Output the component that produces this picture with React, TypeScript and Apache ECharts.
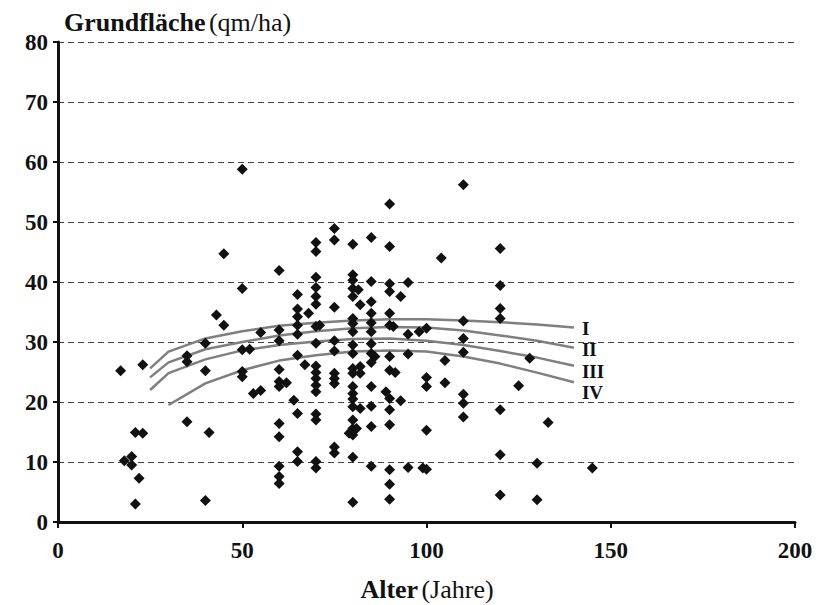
import React, { useEffect, useRef } from "react";
import * as echarts from "echarts";

// Observed stands: [Alter (Jahre), Grundfläche (qm/ha)]
const observations: number[][] = [
  [17, 25.2], [23, 26.2], [21, 14.9], [23, 14.8], [18, 10.2], [20, 10.9], [20, 9.5], [22, 7.3], [21, 3.0],
  [35, 16.7], [40, 3.6], [35, 27.7], [35, 26.7], [40, 29.8], [40, 25.2], [41, 14.9],
  [43, 34.5], [45, 32.8], [45, 44.7],
  [50, 58.8], [50, 38.9], [50, 28.7], [52, 28.8], [50, 25.1], [50, 24.2],
  [53, 21.4], [55, 21.9], [55, 31.6],
  [60, 41.9], [60, 32.0], [60, 30.2], [60, 25.4], [60, 23.4], [62, 23.2], [60, 22.6], [60, 16.4], [60, 14.2], [60, 9.3], [60, 7.6], [60, 6.4],
  [64, 20.3], [65, 18.1], [65, 11.7], [65, 10.1], [65, 27.8], [65, 37.9], [65, 35.5], [65, 34.2], [65, 32.8], [65, 31.3], [68, 34.8], [67, 26.2],
  [70, 46.6], [70, 45.1], [70, 40.8], [70, 39.1], [70, 37.6], [70, 36.3], [70, 32.6], [71, 32.8], [70, 29.8], [70, 26.0], [70, 24.9], [70, 23.9], [70, 22.8], [70, 21.7], [70, 18.0], [70, 17.0], [70, 10.1], [70, 9.0],
  [75, 48.9], [75, 47.0], [75, 35.8], [75, 30.2], [75, 28.5], [75, 24.8], [75, 23.9], [75, 23.1], [75, 12.5], [75, 11.5],
  [80, 46.3], [80, 41.2], [80, 40.3], [80, 38.9], [81.5, 38.7], [80, 37.6], [82, 36.2], [80, 33.9], [80, 33.1], [80, 31.7], [80, 29.5], [80, 28.1], [80, 25.6], [82, 25.9], [80, 24.8], [82, 24.8], [80, 22.6], [80, 21.4], [80, 20.5], [80, 19.2], [82, 18.9], [80, 17.0], [80, 15.6], [81, 15.6], [79, 14.8], [80, 14.5], [80, 10.8], [80, 3.3],
  [85, 47.4], [85, 40.1], [85, 36.7], [85, 34.8], [85, 33.2], [85, 31.7], [85, 29.7], [85, 28.1], [86, 27.6], [85, 26.6], [85, 22.6], [85, 19.3], [85, 15.9], [85, 9.3],
  [90, 53.0], [90, 45.9], [90, 39.7], [90, 38.4], [90, 34.8], [90, 32.8], [91, 32.6], [90, 27.6], [90, 25.3], [91.5, 24.9], [89, 21.7], [90, 20.6], [90, 18.7], [90, 16.2], [90, 8.7], [90, 6.3], [90, 3.8],
  [93, 37.6], [93, 20.2],
  [95, 39.9], [95, 31.3], [95, 28.0], [95, 9.1],
  [98, 31.7], [100, 32.3], [100, 24.1], [100, 22.6], [100, 15.3], [99, 9.0], [100, 8.8],
  [104, 44.0], [105, 26.9], [105, 23.2],
  [110, 56.2], [110, 33.5], [110, 30.6], [110, 28.3], [110, 21.3], [110, 19.8], [110, 17.5],
  [120, 45.6], [120, 39.4], [120, 35.6], [120, 33.9], [120, 18.7], [120, 11.2], [120, 4.5],
  [125, 22.7], [128, 27.3], [130, 9.8], [130, 3.7], [133, 16.6], [145, 9.0],
];

// Yield-class curves (Ertragsklassen I–IV)
const curveAges = [25, 30, 40, 50, 60, 70, 80, 90, 100, 110, 120, 130, 140];
const classI = [25.6, 28.4, 30.6, 31.8, 32.7, 33.2, 33.6, 33.8, 33.8, 33.6, 33.3, 32.9, 32.4];
const classII = [24.1, 26.6, 28.8, 30.0, 31.1, 31.8, 32.3, 32.5, 32.4, 31.9, 31.1, 30.2, 29.05];
const classIII = [22.0, 24.8, 27.1, 28.6, 29.5, 30.1, 30.5, 30.6, 30.2, 29.5, 28.5, 27.4, 26.05];
const classIV = [null, 19.5, 23.1, 25.3, 26.9, 27.8, 28.4, 28.6, 28.4, 27.6, 26.4, 24.9, 23.3];
const classNames = ["I", "II", "III", "IV"];

const xTicks = { min: 0, max: 200, interval: 50 };
const yTicks = { min: 0, max: 80, interval: 10 };

const FONT = "'Liberation Serif', 'Times New Roman', serif";

export default function App() {
  const ref = useRef<HTMLDivElement>(null);

  useEffect(() => {
    if (!ref.current) return;
    const chart = echarts.init(ref.current, null, { renderer: "svg" });
    const curves = [classI, classII, classIII, classIV];
    const labelOffsets = [0.5, 2, 5.5, 10.5];

    const lineSeries = curves.map((vals, i) => ({
      type: "line",
      name: classNames[i],
      data: curveAges
        .map((a, j) => (vals[j] == null ? null : [a, vals[j]]))
        .filter((p) => p !== null),
      showSymbol: false,
      symbol: "none",
      smooth: false,
      lineStyle: { color: "#7f7f7f", width: 2.5 },
      z: 3,
      endLabel: {
        show: true,
        formatter: classNames[i],
        distance: 8,
        offset: [0, labelOffsets[i]],
        fontFamily: FONT,
        fontWeight: "bold",
        fontSize: 19,
        lineHeight: 19,
        color: "#111",
      },
    }));

    const titleRich = {
      b: { fontFamily: FONT, fontWeight: "bold", fontSize: 26, fill: "#111" },
      n: { fontFamily: FONT, fontSize: 26, fill: "#111" },
    };

    chart.setOption({
      animation: false,
      backgroundColor: "#fff",
      grid: { left: 58, right: 25, top: 42, bottom: 83, containLabel: false },
      xAxis: {
        type: "value",
        min: xTicks.min,
        max: xTicks.max,
        interval: xTicks.interval,
        axisLine: { show: true, onZero: false, lineStyle: { color: "#111", width: 3 } },
        axisTick: { show: true, inside: false, length: 6, lineStyle: { color: "#111", width: 2 } },
        splitLine: { show: false },
        axisLabel: {
          fontFamily: FONT,
          fontWeight: "bold",
          fontSize: 23,
          color: "#111",
          margin: 17,
        },
      },
      yAxis: {
        type: "value",
        min: yTicks.min,
        max: yTicks.max,
        interval: yTicks.interval,
        axisLine: { show: true, onZero: false, lineStyle: { color: "#111", width: 3 } },
        axisTick: { show: true, inside: false, length: 5, lineStyle: { color: "#111", width: 2 } },
        splitLine: { show: true, lineStyle: { color: "#444", width: 1, type: [6, 4] } },
        axisLabel: {
          fontFamily: FONT,
          fontWeight: "bold",
          fontSize: 23,
          color: "#111",
          margin: 10,
        },
      },
      graphic: [
        {
          type: "text",
          x: 64,
          y: 22,
          style: {
            text: "{b|Grundfläche} {n|(qm/ha)}",
            verticalAlign: "middle",
            align: "left",
            rich: titleRich,
          },
        },
        {
          type: "text",
          x: 427,
          y: 589,
          style: {
            text: "{b|Alter} {n|(Jahre)}",
            verticalAlign: "middle",
            align: "center",
            rich: titleRich,
          },
        },
      ],
      series: [
        {
          type: "scatter",
          data: observations,
          symbol: "diamond",
          symbolSize: 11,
          itemStyle: { color: "#111", opacity: 1 },
          z: 4,
        },
        ...lineSeries,
      ],
    });
    return () => chart.dispose();
  }, []);

  return (
    <div
      ref={ref}
      style={{ position: "fixed", left: 0, top: 0, width: 820, height: 605, background: "#fff" }}
    />
  );
}
